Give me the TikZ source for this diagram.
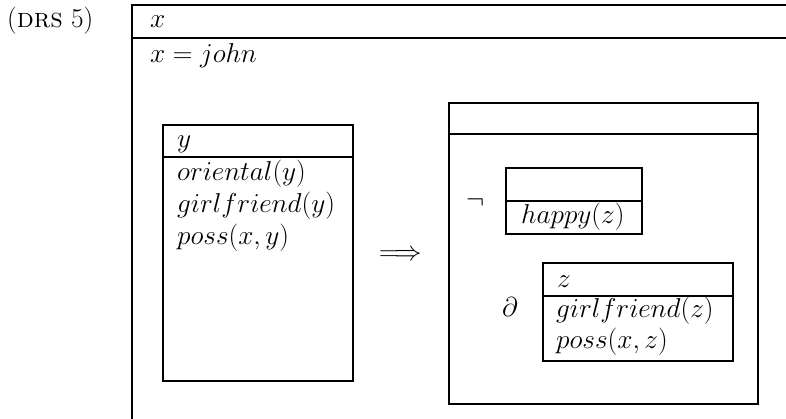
\RequirePackage{fix-cm}
\documentclass[tikz,border=0pt]{standalone}
\begin{document}
\begin{tikzpicture}[x=1pt,y=-1pt,
  rule/.style={line width=2.1pt},
  txt/.style={anchor=base west, inner sep=0pt, font=\fontsize{27.3}{32}\selectfont}]
\useasboundingbox (0,0) rectangle (786,418);
\clip (0,0) rectangle (786,418);
% outer DRS (cropped at right and bottom)
\draw[rule] (132,440) -- (132,5) -- (820,5);
\draw[rule] (132,38) -- (820,38);
% antecedent box
\draw[rule] (163,125) rectangle (353,381);
\draw[rule] (163,157) -- (353,157);
% consequent box
\draw[rule] (449,103) rectangle (758,404);
\draw[rule] (449,134) -- (758,134);
% negated box
\draw[rule] (506,168) rectangle (642,234);
\draw[rule] (506,201) -- (642,201);
% partial box
\draw[rule] (543,263) rectangle (733,361);
\draw[rule] (543,296) -- (733,296);
% texts
\node[txt] (drs) at (7,27) {(\textsc{drs} 5)};
\node[txt] (ux) at (150,27) {$x$};
\node[txt] (cx) at (150,62) {$x = john$};
\node[txt] (uy) at (177,147) {$y$};
\node[txt] (c1) at (177,180) {$oriental(y)$};
\node[txt] (c2) at (177,212) {$girlfriend(y)$};
\node[txt] (c3) at (177,244) {$poss(x,y)$};
\node[txt] (imp) at (379,260) {$\Longrightarrow$};
\node[txt] (neg) at (466,208) {$\neg$};
\node[txt] (hap) at (521,223) {$happy(z)$};
\node[txt] (par) at (502,316) {$\partial$};
\node[txt] (uz) at (557,287) {$z$};
\node[txt] (c4) at (556,317) {$girlfriend(z)$};
\node[txt] (c5) at (556,348) {$poss(x,z)$};
\end{tikzpicture}
\end{document}
